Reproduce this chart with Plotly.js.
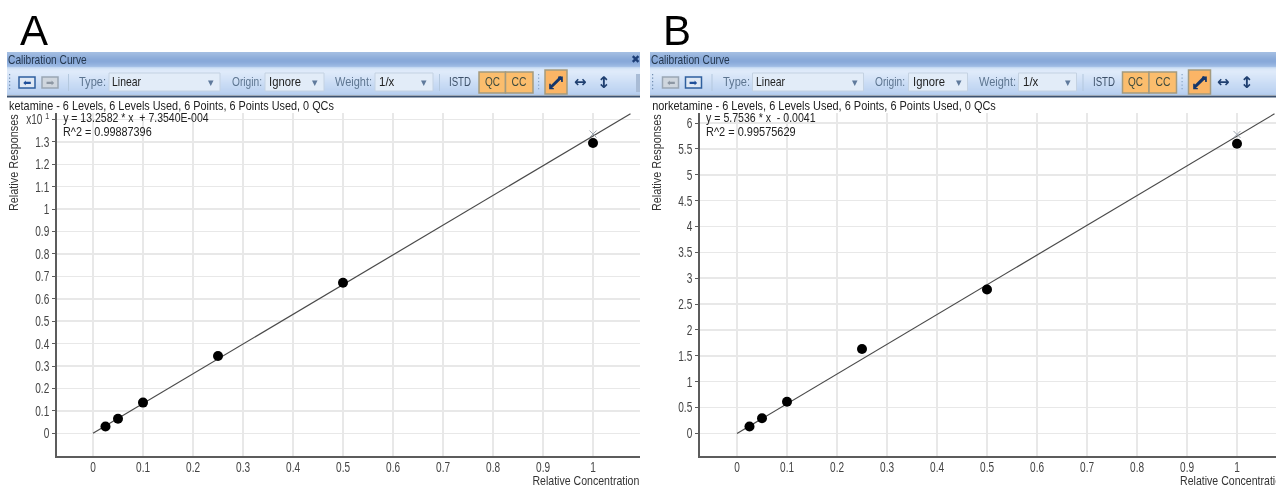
<!DOCTYPE html>
<html><head><meta charset="utf-8">
<script src="https://cdn.plot.ly/plotly-3.0.1.min.js"></script>
<style>html,body{margin:0;padding:0;background:#fff;overflow:hidden}#c{width:1276px;height:486px;filter:blur(0.45px)}</style>
</head><body><div id="c"></div>
<script>
const concentration=[0.025,0.05,0.1,0.25,0.5,1];
const ketamineResponse=[0.03,0.065,0.137,0.345,0.672,1.295];
const norketamineResponse=[0.13,0.29,0.61,1.63,2.78,5.6];
const fitX=[0,1.075];
const ketamineFitY=[0,1.426];
const norketamineFitY=[-0.004,6.18];
const excludedX=[1];
const ketamineFlagY=[1.335];
const norketamineFlagY=[5.78];
const xTicks=[0,0.1,0.2,0.3,0.4,0.5,0.6,0.7,0.8,0.9,1];
const xTickText=['0','0.1','0.2','0.3','0.4','0.5','0.6','0.7','0.8','0.9','1'];
const ketamineTicks=[0,0.1,0.2,0.3,0.4,0.5,0.6,0.7,0.8,0.9,1,1.1,1.2,1.3,1.4];
const ketamineTickText=['0','0.1','0.2','0.3','0.4','0.5','0.6','0.7','0.8','0.9','1','1.1','1.2','1.3','x10 <sup>1</sup>'];
const norketamineTicks=[0,0.5,1,1.5,2,2.5,3,3.5,4,4.5,5,5.5,6];
const norketamineTickText=['0','0.5','1','1.5','2','2.5','3','3.5','4','4.5','5','5.5','6'];
const panelLetters=['A','B'];
const headers=['ketamine - 6 Levels, 6 Levels Used, 6 Points, 6 Points Used, 0 QCs','norketamine - 6 Levels, 6 Levels Used, 6 Points, 6 Points Used, 0 QCs'];
const equations=['y = 13.2582 * x  + 7.3540E-004','y = 5.7536 * x  - 0.0041'];
const rSquared=['R^2 = 0.99887396','R^2 = 0.99575629'];

const W=1276,H=486;
const FONT='"Liberation Sans",Arial,sans-serif';
const px=x=>x/W, py=y=>1-y/H;
const shapes=[],ann=[],targetWidth=[];
function rect(x0,y0,x1,y1,fill,line,lw){shapes.push({type:'rect',xref:'paper',yref:'paper',layer:'below',x0:px(x0),x1:px(x1),y0:py(y0),y1:py(y1),fillcolor:fill,line:{color:line||fill,width:line?(lw||1):0}});}
function seg(x0,y0,x1,y1,color,lw){shapes.push({type:'line',xref:'paper',yref:'paper',layer:'below',x0:px(x0),x1:px(x1),y0:py(y0),y1:py(y1),line:{color:color,width:lw}});}
function txt(x,y,t,size,color,anchor,w,extra){ann.push(Object.assign({xref:'paper',yref:'paper',x:px(x),y:py(y),text:t,showarrow:false,xanchor:anchor||'left',yanchor:'middle',borderpad:0,font:{family:FONT,size:size,color:color||'#333'}},extra||{}));targetWidth.push(w||0);}
function icon(x,y,t,size,color,bold){txt(x,y,t,size,color,'center',0,{font:{family:'DejaVu Sans',size:size,color:color,weight:bold?'bold':'normal'}});}
function bands(x0,x1,y0,colors){colors.forEach((c,i)=>rect(x0,y0+i,x1,y0+i+1,c));}
const barCols=['#a3bee2','#a0bbe1','#9cb8df','#98b5de','#94b2dc','#90afdb','#8dacda','#8aaad9','#88a9d9','#88a9d9','#8babdb','#8fafdd','#94b3df','#9ab8e2','#a3bfe6'];
const toolCols=['#c4d9f2','#d2e2f6','#dae8f8','#dde9f9','#dfeafa','#deeafa','#dce9f9','#dbe8f9','#d9e6f8','#d7e5f8','#d6e4f8','#d4e3f7','#d2e2f7','#d0e0f6','#cedff6','#ccddf5','#cadcf5','#c8dbf4','#c7daf4','#c5d9f3','#c4d8f3','#c2d6f2','#c0d5f2','#bfd4f1','#bdd3f1','#bbd1f0','#b8cfef','#b2cbeb'];
function chrome(dx,x0,x1,back,i){
  bands(x0,x1,52,barCols);
  bands(x0,x1,67,toolCols);
  rect(x0,95.5,x1,97.5,'#3c5270');
  txt(x0,59.5,'Calibration Curve',12,'#25384f','left',79);
  for(let k=0;k<5;k++){rect(x0+2,74+k*3.5,x0+3.2,75.2+k*3.5,'#6f8cb0');rect(dx+538,74+k*3.5,dx+539.2,75.2+k*3.5,'#8aa5c5');}
  rect(dx+19,77,dx+35,88,back?'#dfe8f4':'#cfd6de',back?'#2f5f9e':'#9aa6b4',1.5);
  rect(dx+42,77,dx+58,88,back?'#cfd6de':'#dfe8f4',back?'#9aa6b4':'#2f5f9e',1.5);
  icon(dx+27,82.5,'⬅',10,back?'#1f4f9a':'#8d97a3');
  icon(dx+50,82.5,'➡',10,back?'#8d97a3':'#1f4f9a');
  rect(dx+68,74,dx+69,91,'#b4c8de');
  [[109,220],[265,324],[375,433]].forEach(b=>{rect(dx+b[0],73,dx+b[1],91,'#e2ecf8','#c4d2e2',1);icon(dx+b[1]-9,82,'▾',11,'#5f7a9c');});
  rect(dx+439,74,dx+440,91,'#b4c8de');
  txt(dx+78,82,'Type:',12.5,'#5d7590','left',27);
  txt(dx+111,82,'Linear',12.5,'#222','left',29);
  txt(dx+231,82,'Origin:',12.5,'#5d7590','left',30);
  txt(dx+268,82,'Ignore',12.5,'#222','left',32);
  txt(dx+334,82,'Weight:',12.5,'#5d7590','left',37);
  txt(dx+378,82,'1/x',12.5,'#222','left',16);
  txt(dx+448,82,'ISTD',12.5,'#3d5068','left',22);
  rect(dx+479,72,dx+505.5,93,'#fbbd6d','#a49a7e',1.5);
  rect(dx+505.5,72,dx+533,93,'#fbbd6d','#a49a7e',1.5);
  txt(dx+492,82.5,'QC',12.5,'#3e4b3e','center',15);
  txt(dx+519,82.5,'CC',12.5,'#3e4b3e','center',15);
  rect(dx+545,70,dx+567,94,'#fbb566','#a49a7e',1.5);
  seg(dx+551,87,dx+561,77,'#15366b',2.5);
  icon(dx+556,82,'⤢',17,'#15366b',true);
  icon(dx+580,82,'↔',15,'#1f3f70',true);
  icon(dx+603,82,'↕',16,'#1f3f70',true);
  txt(x0+1,105.5,headers[i],12.5,'#222','left',i?344:325);
}
chrome(0,7,640,true,0);
chrome(643.5,650,1276,false,1);
icon(635,59.5,'✖',11,'#1d3f78');
rect(636,74,640,92,'#a9bcd6');
txt(33.5,30,panelLetters[0],42,'#000','center',0);
txt(677,30,panelLetters[1],42,'#000','center',0);
txt(62,118.5,equations[0],12,'#222','left',146);
txt(62,131.5,rSquared[0],12,'#222','left',89);
txt(705,118.5,equations[1],12,'#222','left',110);
txt(705,131.5,rSquared[1],12,'#222','left',90);
txt(14,163,'Relative Responses',12,'#333','center',97,{textangle:-90});
txt(657,163,'Relative Responses',12,'#333','center',97,{textangle:-90});
txt(640,481,'Relative Concentration',12,'#333','right',107);
txt(1179,481,'Relative Concentration',12,'#333','left',107);

function traces(xa,ya,pts,fit,flag){return [
 {type:'scatter',mode:'lines',x:fitX,y:fit,xaxis:xa,yaxis:ya,line:{color:'#4a4a4a',width:1.2},hoverinfo:'skip'},
 {type:'scatter',mode:'markers',x:excludedX,y:flag,xaxis:xa,yaxis:ya,marker:{symbol:'x-thin-open',size:7,color:'#9aa4ae',line:{color:'#9aa4ae',width:1}}},
 {type:'scatter',mode:'markers',x:concentration,y:pts,xaxis:xa,yaxis:ya,marker:{symbol:'circle',size:10,color:'#000'}}
];}
const axBase={showgrid:true,gridcolor:'#e8e8e8',gridwidth:1.5,zeroline:false,showline:true,linecolor:'#5c5c5c',linewidth:2,tickmode:'array',ticklen:3,tickcolor:'#5c5c5c',tickfont:{family:FONT,size:14,color:'#444'}};
const xb=Object.assign({},axBase,{tickvals:xTicks,ticktext:xTickText,ticks:''});
const yb=Object.assign({},axBase,{ticks:'outside'});
const layout={width:W,height:H,margin:{l:0,r:0,t:0,b:0},paper_bgcolor:'#fff',plot_bgcolor:'#fff',showlegend:false,shapes:shapes,annotations:ann,
 xaxis:Object.assign({},xb,{domain:[px(57),px(640)],range:[-0.072,1.094],anchor:'y'}),
 yaxis:Object.assign({},yb,{domain:[py(456),py(113)],range:[-0.1013,1.429],tickvals:ketamineTicks,ticktext:ketamineTickText,anchor:'x'}),
 xaxis2:Object.assign({},xb,{domain:[px(700),1],range:[-0.074,1.078],anchor:'y2'}),
 yaxis2:Object.assign({},yb,{domain:[py(456),py(113)],range:[-0.439,6.195],tickvals:norketamineTicks,ticktext:norketamineTickText,anchor:'x2'})
};
function squeeze(el,a,k,dy){const old=el.getAttribute('transform')||'';el.setAttribute('transform',old+' translate('+a+','+(dy||0)+') scale('+k+',1) translate('+(-a)+',0)');}
Plotly.newPlot('c',traces('x','y',ketamineResponse,ketamineFitY,ketamineFlagY).concat(traces('x2','y2',norketamineResponse,norketamineFitY,norketamineFlagY)),layout,{displayModeBar:false,staticPlot:true}).then(gd=>{
  gd.querySelectorAll('.annotation').forEach(g=>{
    const i=+g.getAttribute('data-index'),w=targetWidth[i];
    if(!w)return;
    const t=g.querySelector('text');const b=t.getBBox();
    const an=ann[i].xanchor;
    const a=an==='left'?b.x:an==='right'?b.x+b.width:b.x+b.width/2;
    squeeze(t,a,w/b.width);
  });
  gd.querySelectorAll('.xtick text, .x2tick text').forEach(t=>{const b=t.getBBox();squeeze(t,b.x+b.width/2,0.72,-3);});
  gd.querySelectorAll('.ytick text, .y2tick text').forEach(t=>{const b=t.getBBox();squeeze(t,b.x+b.width,0.72);});
});
</script></body></html>
